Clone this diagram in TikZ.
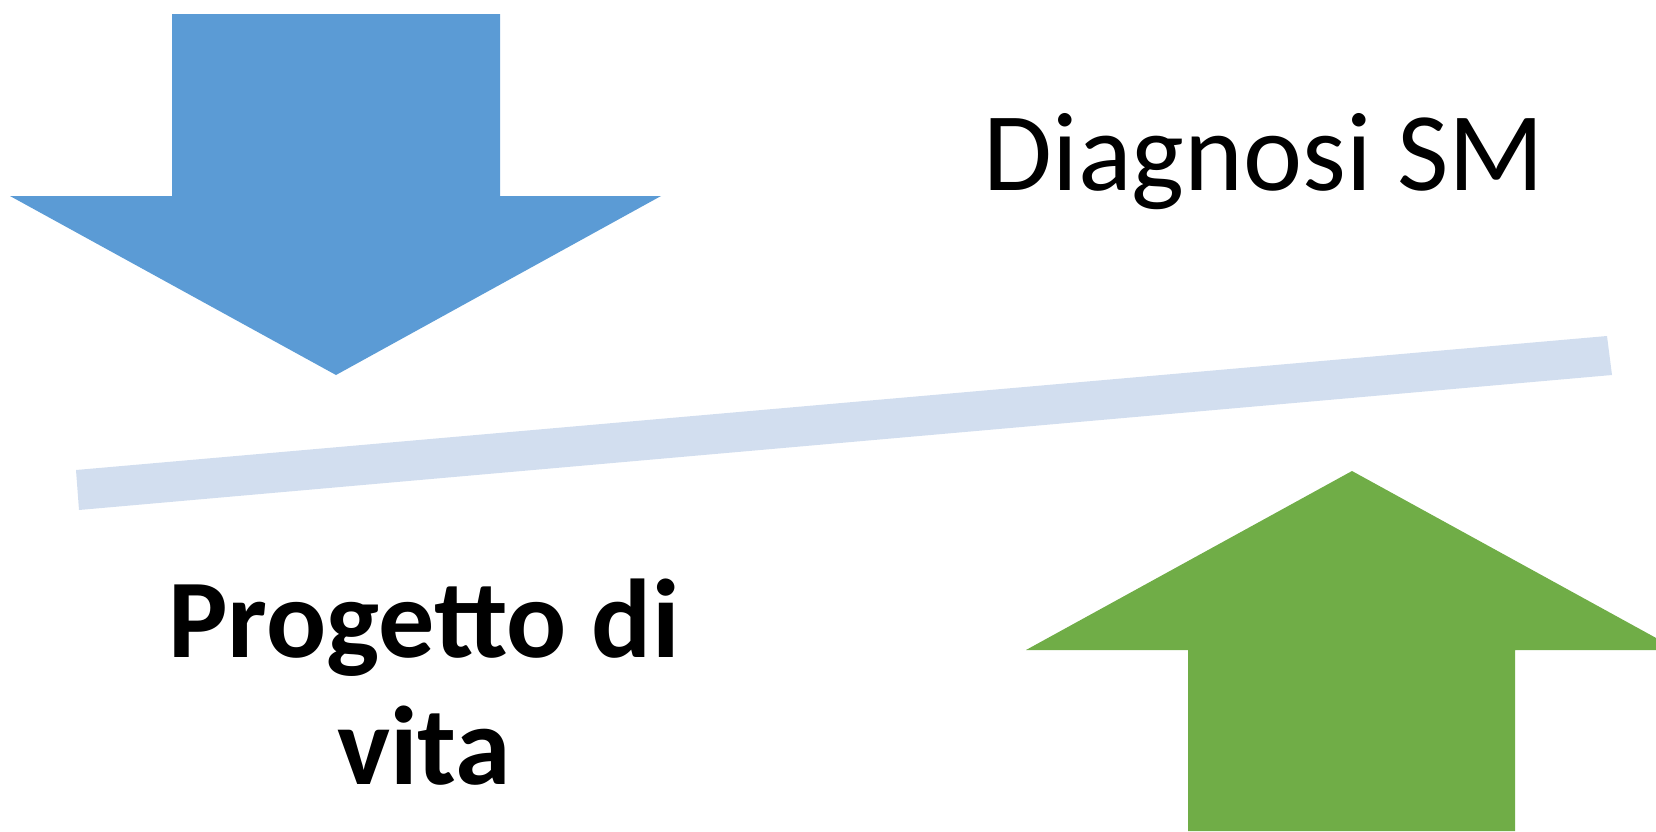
\documentclass[tikz,border=0pt]{standalone}
\usepackage{fontspec}
\setmainfont{Carlito}
\definecolor{blueA}{HTML}{5B9BD5}
\definecolor{greenA}{HTML}{70AD47}
\definecolor{bandC}{HTML}{D2DEEF}
\begin{document}
\begin{tikzpicture}[x=0.5pt,y=-0.5pt,
  lbl/.style={inner sep=0pt,anchor=base,text=black,font=\fontsize{56}{63.5}\selectfont},
  lblb/.style={lbl,font=\fontsize{56}{63.5}\selectfont\bfseries,align=center}]
\useasboundingbox (0,0) rectangle (1656,831);
% blue down arrow
\fill[blueA] (172,14) -- (500,14) -- (500,196) -- (661,196) -- (336,375) -- (10,196) -- (172,196) -- cycle;
% band
\fill[bandC] (76,470) -- (1607,336) -- (1612,375) -- (79,510) -- cycle;
% green up arrow
\fill[greenA] (1188,831) -- (1188,650) -- (1026,650) -- (1352,471) -- (1678,650) -- (1515,650) -- (1515,831) -- cycle;
\node[lbl] (diag) at (1264,190) {Diagnosi SM};
\node[lblb] (prog) at (424,784) {Progetto di\\vita};
\end{tikzpicture}
\end{document}
